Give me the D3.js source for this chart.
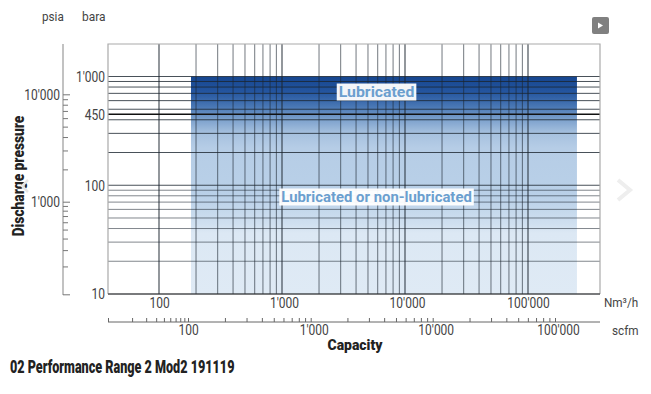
<!DOCTYPE html>
<html><head><meta charset="utf-8">
<script src="https://cdn.jsdelivr.net/npm/d3@7/dist/d3.min.js"></script>
<style>html,body{margin:0;padding:0;background:#fff}svg{display:block}
text{font-family:"Roboto",sans-serif}</style></head>
<body><svg id="c" width="651" height="394"></svg>
<script>
const capacityMultiples=[1,2,3,4,5,6,7,8,9];
const nm3Decades=[100,1000,10000];
const nm3Labels=[100,1000,10000,100000];
const scfmDecades=[10,100,1000,10000];
const scfmLabels=[100,1000,10000,100000];
const baraGrid=[10,20,30,40,50,60,70,80,90,100,200,300,400,450,500,600,700,800,900,1000];
const baraLabels=[10,100,450,1000];
const psiaDecades=[100,1000];
const psiaLabels=[1000,10000];
const rangeCapacity=[182,250000];
const rangePressure=[10,1000];
const regionLabels=["Lubricated","Lubricated or non-lubricated"];
const regionBara=[720,78];
const regionCapacityMid=[5870,5870];
const gradStops=[[0,"#16468f"],[0.07,"#24559f"],[0.14,"#4a78b5"],[0.2,"#7ea2cd"],[0.26,"#a6c1df"],[0.33,"#b6cde6"],[0.55,"#b9d0e8"],[0.68,"#d0e0f0"],[0.72,"#dce8f4"],[1,"#dfeaf5"]];

const fmt=v=>d3.format(",")(v).replace(/,/g,"'");
const svg=d3.select("#c");
const x=d3.scaleLog().domain([100,100000]).range([159,528]);
const y=d3.scaleLog().domain([10,1000]).range([294,76.5]);
const scfm=d3.scaleLog().domain([10,100,1000,10000,100000]).range([108,188,310.7,432.7,555]);
const psia=d3.scaleLog().domain([100,1000,10000]).range([294.3,201.7,94.3]);
const L=108,R=600,T=44,B=294;
const TXT="#444";
function squeeze(sel,f){sel.each(function(){const w=this.getComputedTextLength();
  d3.select(this).attr("textLength",w*f).attr("lengthAdjust","spacingAndGlyphs");});}

const g=svg.append("defs").append("linearGradient").attr("id","gr").attr("x1",0).attr("x2",0).attr("y1",0).attr("y2",1);
gradStops.forEach(s=>g.append("stop").attr("offset",s[0]).attr("stop-color",s[1]));

svg.append("rect").attr("x",x(rangeCapacity[0])).attr("width",x(rangeCapacity[1])-x(rangeCapacity[0]))
  .attr("y",y(rangePressure[1])).attr("height",y(rangePressure[0])-y(rangePressure[1])).attr("fill","url(#gr)");

const vGrid=nm3Decades.flatMap(d=>capacityMultiples.map(m=>d*m)).concat([100000]);
svg.append("g").selectAll("line").data(vGrid).join("line")
  .attr("x1",d=>x(d)).attr("x2",d=>x(d)).attr("y1",T).attr("y2",B)
  .attr("stroke","#1c2530").attr("stroke-opacity",d=>nm3Labels.includes(d)?0.8:0.62).attr("stroke-width",d=>nm3Labels.includes(d)?1.2:1);
svg.append("g").selectAll("line").data(baraGrid).join("line")
  .attr("x1",L).attr("x2",R).attr("y1",d=>y(d)).attr("y2",d=>y(d))
  .attr("stroke",d=>d==450?"#111":"#1c2530").attr("stroke-opacity",d=>d==450?1:(d>=100?0.8:0.55)).attr("stroke-width",d=>d==450?1.6:1);
svg.append("path").attr("d",`M${L},${B}V${T}H${R}V${B}`).attr("fill","none").attr("stroke","#aaa").attr("stroke-width",1.2);
svg.append("line").attr("x1",L).attr("x2",R).attr("y1",B).attr("y2",B).attr("stroke","#333").attr("stroke-width",1.2);

function styleLabels(sel,size){sel.selectAll("text").attr("fill",TXT).attr("font-size",size).call(squeeze,0.8);}
const aL=d3.axisLeft(y).tickValues(baraLabels).tickFormat(fmt).tickSize(0).tickPadding(3);
const gL=svg.append("g").attr("transform",`translate(${L},0)`).call(aL);
gL.select(".domain").remove();styleLabels(gL,15);
const aN=d3.axisBottom(x).tickValues(nm3Labels).tickFormat(fmt).tickSize(0).tickPadding(3);
const gN=svg.append("g").attr("transform",`translate(0,${B})`).call(aN);
gN.select(".domain").remove();styleLabels(gN,15);
gN.selectAll("text").attr("dx",d=>d==1000||d==10000?2:0);
const sTicks=scfmDecades.flatMap(d=>capacityMultiples.map(m=>d*m)).concat([100000]);
const aS=d3.axisTop(scfm).tickValues(sTicks).tickFormat("").tickSize(4);
const gS=svg.append("g").attr("transform","translate(0,322)").call(aS);
gS.select(".domain").attr("d",`M${L},0H${R}`).attr("stroke","#666");
gS.selectAll(".tick line").attr("stroke","#666");
const aS2=d3.axisBottom(scfm).tickValues(scfmLabels).tickFormat(fmt).tickSize(0).tickPadding(2);
const gS2=svg.append("g").attr("transform","translate(0,322)").call(aS2);
gS2.select(".domain").remove();styleLabels(gS2,15);
gS2.selectAll("text").attr("dx",d=>d==100?0:3);
const pTicks=psiaDecades.flatMap(d=>capacityMultiples.map(m=>d*m)).concat([10000]);
const aP=d3.axisRight(psia).tickValues(pTicks).tickFormat("").tickSize(5);
const gP=svg.append("g").attr("transform","translate(63,0)").call(aP);
gP.select(".domain").attr("d",`M0,${T}V${B+1}`).attr("stroke","#999").attr("stroke-width",1.2);
gP.selectAll(".tick line").attr("stroke","#777").attr("x2",d=>(d==1000||d==10000||d==100)?7:5);
const aP2=d3.axisLeft(psia).tickValues(psiaLabels).tickFormat(fmt).tickSize(0).tickPadding(3);
const gP2=svg.append("g").attr("transform","translate(63,0)").call(aP2);
gP2.select(".domain").remove();styleLabels(gP2,15);

const t=(s,xx,yy,o={})=>{const e=svg.append("text").text(s).attr("x",xx).attr("y",yy)
  .attr("fill",o.fill||TXT).attr("font-size",o.size||13).attr("font-weight",o.w||400)
  .attr("text-anchor",o.a||"start").attr("transform",o.r?`rotate(${o.r} ${xx} ${yy})`:null);
  e.call(squeeze,o.f||1);return e;};
t("psia",42,21,{size:13,f:0.9});
t("bara",82,21,{size:13,f:0.92});
t("Nm³/h",604,307,{size:13,f:0.9});
t("scfm",612,335,{size:13,f:0.9});
t("Capacity",355,350,{size:15,w:900,a:"middle",fill:"#222",f:0.93});
t("Discharge pressure",24,176,{size:16,w:900,a:"middle",fill:"#222",r:-90,f:0.86});
t("02 Performance Range 2 Mod2 191119",10,373,{size:18,w:900,fill:"#222",f:0.7});

const regionFit=[1.02,0.96];
regionLabels.forEach((s,i)=>{
  const px=x(regionCapacityMid[i]), py=y(regionBara[i]);
  const tx=svg.append("text").text(s).attr("x",px).attr("y",py+5).attr("text-anchor","middle")
    .attr("font-size",15.5).attr("font-weight",700).attr("fill","#6b9fcf");
  const w=tx.node().getComputedTextLength()*regionFit[i];
  tx.call(squeeze,regionFit[i]);
  svg.insert("rect",()=>tx.node()).attr("x",px-w/2-2).attr("y",py-8.5).attr("width",w+4).attr("height",17).attr("fill","#fff").attr("fill-opacity",0.95);
});

const btn=svg.append("g");
btn.append("rect").attr("x",592).attr("y",17).attr("width",17).attr("height",17).attr("rx",2).attr("fill","#808080");
btn.append("path").attr("d","M598,22.5l5,3l-5,3z").attr("fill","#fff");
svg.append("path").attr("d","M618,180l12,10l-12,10").attr("fill","none").attr("stroke","#eee").attr("stroke-width",4);
svg.append("path").attr("d","M28,180l-6,6l6,6").attr("fill","none").attr("stroke","#e6e6e6").attr("stroke-width",2.5);
</script></body></html>
